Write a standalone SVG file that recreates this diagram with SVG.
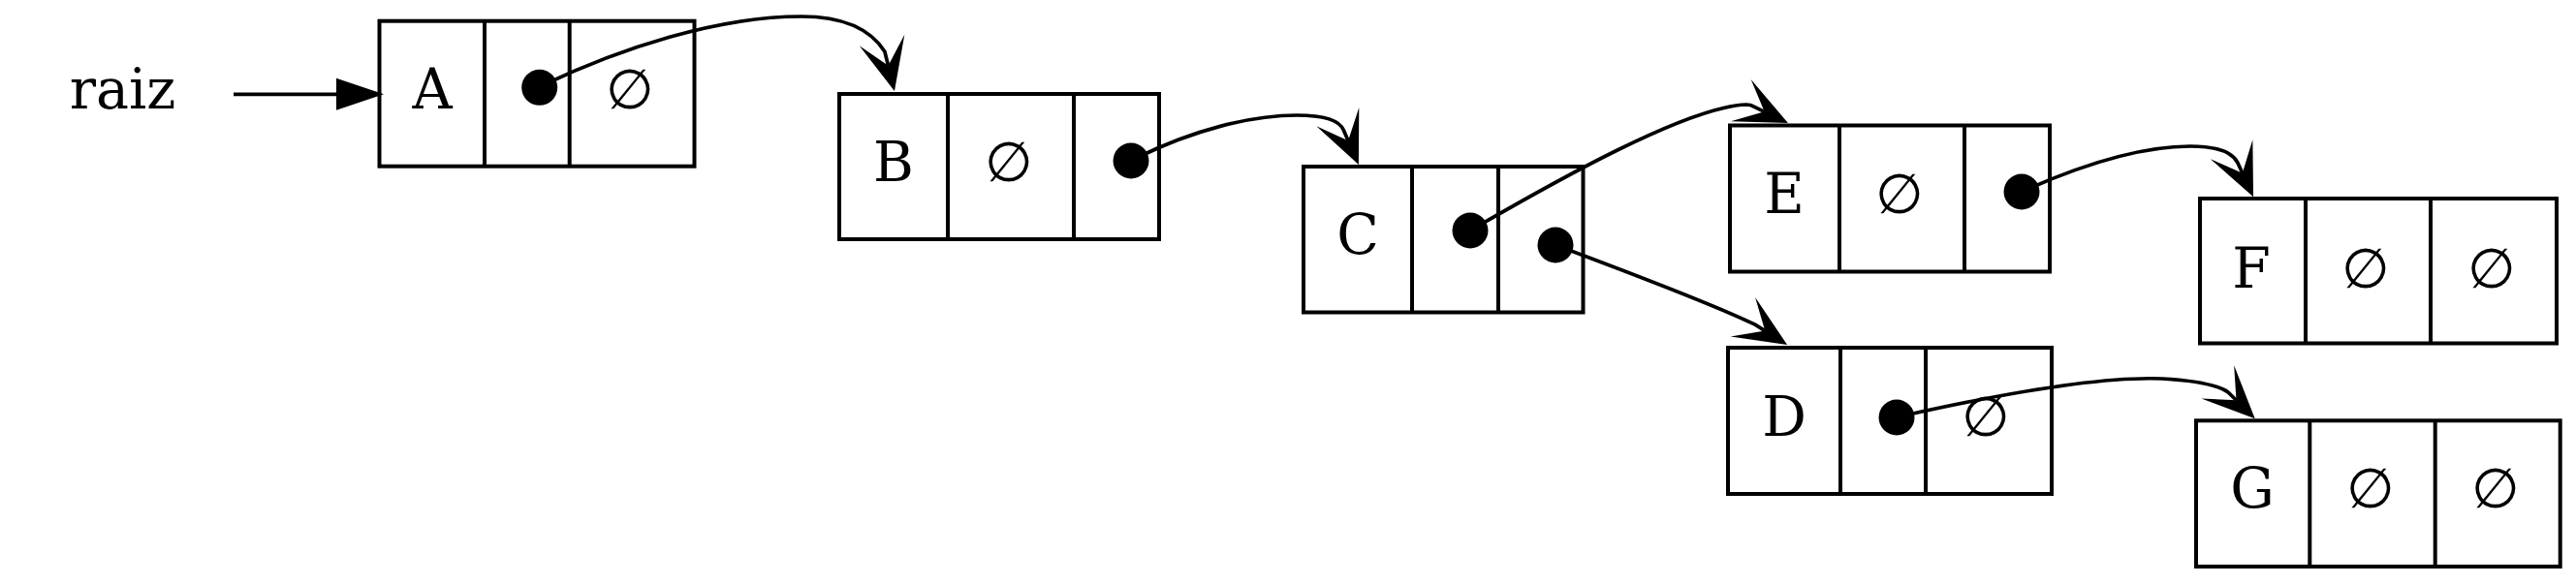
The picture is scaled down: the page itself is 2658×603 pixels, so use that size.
<svg xmlns="http://www.w3.org/2000/svg" width="2658" height="603" viewBox="0 0 2658 603">
<style>
.box{fill:none;stroke:#000;stroke-width:4}
.div{stroke:#000;stroke-width:4}
.t{font-family:"DejaVu Serif","Liberation Serif",serif;font-size:57px;fill:#000;text-anchor:middle}
.dot{fill:#000}
.edge{fill:none;stroke:#000;stroke-width:3.7}
</style>
<defs>
<marker id="vee" markerUnits="userSpaceOnUse" markerWidth="54" markerHeight="48" refX="27" refY="24" orient="auto" overflow="visible">
<path d="M54,24 L0,0 L27,24 L0,48 Z" fill="#000"/>
</marker>
<marker id="tri" markerUnits="userSpaceOnUse" markerWidth="49" markerHeight="33" refX="0" refY="16.5" orient="auto" overflow="visible">
<path d="M0,0 L49,16.5 L0,33 Z" fill="#000"/>
</marker>
</defs>
<rect x="0" y="0" width="2658" height="603" fill="#fff"/>
<g id="raiz">
<text class="t" x="126.5" y="112">raiz</text>
</g>
<g id="nodeA">
<rect class="box" x="391.5" y="21.7" width="325" height="150"/>
<line class="div" x1="500" y1="21.7" x2="500" y2="171.7"/>
<line class="div" x1="587.7" y1="21.7" x2="587.7" y2="171.7"/>
<text class="t" x="446" y="111.7">A</text>
<circle class="dot" cx="556.7" cy="90.3" r="18.5"/>
<text class="t" x="650" y="111.7">∅</text>
</g>
<g id="nodeB">
<rect class="box" x="866" y="97" width="330" height="150"/>
<line class="div" x1="978" y1="97" x2="978" y2="247"/>
<line class="div" x1="1108" y1="97" x2="1108" y2="247"/>
<text class="t" x="922" y="187">B</text>
<text class="t" x="1041" y="187">∅</text>
<circle class="dot" cx="1167" cy="166" r="18.5"/>
</g>
<g id="nodeC">
<rect class="box" x="1345" y="172" width="288.5" height="150.5"/>
<line class="div" x1="1457" y1="172" x2="1457" y2="322.5"/>
<line class="div" x1="1546" y1="172" x2="1546" y2="322.5"/>
<text class="t" x="1401" y="262">C</text>
<circle class="dot" cx="1517" cy="238" r="18.5"/>
<circle class="dot" cx="1605" cy="253" r="18.5"/>
</g>
<g id="nodeE">
<rect class="box" x="1785" y="129.5" width="330" height="151"/>
<line class="div" x1="1898" y1="129.5" x2="1898" y2="280.5"/>
<line class="div" x1="2027" y1="129.5" x2="2027" y2="280.5"/>
<text class="t" x="1841" y="220">E</text>
<text class="t" x="1960" y="220">∅</text>
<circle class="dot" cx="2086" cy="198" r="18.5"/>
</g>
<g id="nodeD">
<rect class="box" x="1783" y="359" width="334" height="151"/>
<line class="div" x1="1899" y1="359" x2="1899" y2="510"/>
<line class="div" x1="1987" y1="359" x2="1987" y2="510"/>
<text class="t" x="1841" y="450">D</text>
<circle class="dot" cx="1957" cy="431" r="18.5"/>
<text class="t" x="2049" y="450">∅</text>
</g>
<g id="nodeF">
<rect class="box" x="2270" y="205" width="368" height="149.5"/>
<line class="div" x1="2379" y1="205" x2="2379" y2="354.5"/>
<line class="div" x1="2508" y1="205" x2="2508" y2="354.5"/>
<text class="t" x="2323" y="296.5">F</text>
<text class="t" x="2441" y="296.5">∅</text>
<text class="t" x="2571" y="296.5">∅</text>
</g>
<g id="nodeG">
<rect class="box" x="2266" y="434.3" width="375.7" height="150.7"/>
<line class="div" x1="2383.3" y1="434.3" x2="2383.3" y2="585"/>
<line class="div" x1="2512.7" y1="434.3" x2="2512.7" y2="585"/>
<text class="t" x="2324" y="524.3">G</text>
<text class="t" x="2446" y="524.3">∅</text>
<text class="t" x="2575" y="524.3">∅</text>
</g>
<g id="connectors">
<path class="edge" d="M241,97.3 L347,97.3" marker-end="url(#tri)"/>
<path class="edge" d="M560,88 C640,50 740,17 827,17 C870,17 898,30 912.9,53.2 L916.5,67.8" marker-end="url(#vee)"/>
<path class="edge" d="M1175,162 C1230,135 1290,119 1338,119 C1365,119 1382,124 1386.3,134.3 L1391.1,145.3" marker-end="url(#vee)"/>
<path class="edge" d="M1517,238 C1600,190 1740,110 1802,108 C1806,108 1808,109 1809.8,110.1 L1820.6,115.3" marker-end="url(#vee)"/>
<path class="edge" d="M1605,253 C1680,281 1765,313 1811,335.2 L1821.2,341.6" marker-end="url(#vee)"/>
<path class="edge" d="M2095,194 C2150,170 2210,151 2260,151 C2288,151 2303,157 2308.8,167.8 L2313.8,178.7" marker-end="url(#vee)"/>
<path class="edge" d="M1965,429 C2050,410 2160,388 2231,391 C2265,393 2288,397 2299,404.9 L2307.5,413.3" marker-end="url(#vee)"/>
</g>
</svg>
